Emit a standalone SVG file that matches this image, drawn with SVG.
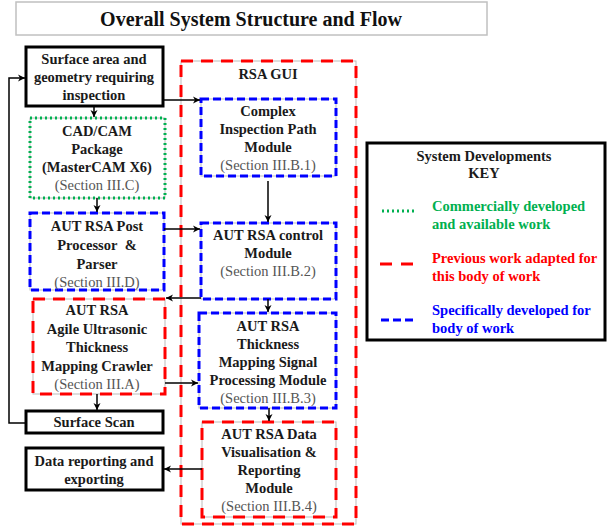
<svg xmlns="http://www.w3.org/2000/svg" width="608" height="526" viewBox="0 0 608 526">
<defs>
<marker id="ah" markerWidth="10" markerHeight="10" refX="8" refY="5" orient="auto" markerUnits="userSpaceOnUse">
<path d="M1,1.5 L8,5 L1,8.5 L3,5 Z" fill="#000"/>
</marker>
</defs>
<style>
.t{font-family:"Liberation Serif","Times New Roman",serif;font-weight:bold;font-size:14.5px;fill:#1a1a1a;text-anchor:middle}
.s{font-family:"Liberation Serif","Times New Roman",serif;font-size:14.5px;fill:#555;text-anchor:middle}
.solid{fill:#fff;stroke:#000;stroke-width:3}
.under{fill:#fff;stroke:#bbb;stroke-width:1}
.green{fill:none;stroke:#00B050;stroke-width:3;stroke-dasharray:2 3}
.red{fill:none;stroke:#FF0000;stroke-width:3;stroke-dasharray:12 8}
.blue{fill:none;stroke:#0000FF;stroke-width:3;stroke-dasharray:8 4}
.c{fill:none;stroke:#000;stroke-width:1.5;marker-end:url(#ah)}
.k{font-family:"Liberation Serif","Times New Roman",serif;font-weight:bold;font-size:14.5px}
</style>
<rect x="0" y="0" width="608" height="526" fill="#fff"/>
<g id="title">
<rect x="16" y="2" width="471" height="33" fill="#fff" stroke="#c0c0c0" stroke-width="1.5"/>
<text x="251" y="26" style="font-family:'Liberation Serif','Times New Roman',serif;font-weight:bold;font-size:20px;fill:#111;text-anchor:middle">Overall System Structure and Flow</text>
</g>
<g id="rsa-gui">
<rect x="181" y="61" width="175" height="463" class="under"/>
<rect x="181" y="61" width="175" height="463" class="red"/>
<text x="268" y="79" class="t">RSA GUI</text>
</g>
<g id="surface-area">
<rect x="26" y="47" width="137" height="59" class="solid"/>
<text x="94" y="64" class="t">Surface area and</text>
<text x="94" y="82" class="t">geometry requiring</text>
<text x="94" y="100" class="t">inspection</text>
</g>
<g id="cadcam">
<rect x="30" y="118" width="135" height="80" class="under"/>
<rect x="30" y="118" width="135" height="80" class="green"/>
<text x="97" y="136" class="t">CAD/CAM</text>
<text x="97" y="154" class="t">Package</text>
<text x="97" y="172" class="t">(MasterCAM X6)</text>
<text x="97" y="190" class="s">(Section III.C)</text>
</g>
<g id="post-processor">
<rect x="30" y="213" width="134" height="77" class="under"/>
<rect x="30" y="213" width="134" height="77" class="blue"/>
<text x="97" y="231" class="t">AUT RSA Post</text>
<text x="97" y="250" class="t">Processor&#160; &amp;</text>
<text x="97" y="269" class="t">Parser</text>
<text x="97" y="287" class="s">(Section III.D)</text>
</g>
<g id="crawler">
<rect x="33" y="299" width="132" height="95" class="under"/>
<rect x="33" y="299" width="132" height="95" class="red"/>
<text x="97" y="315" class="t">AUT RSA</text>
<text x="97" y="334" class="t">Agile Ultrasonic</text>
<text x="97" y="352" class="t">Thickness</text>
<text x="97" y="371" class="t">Mapping Crawler</text>
<text x="97" y="389" class="s">(Section III.A)</text>
</g>
<g id="surface-scan">
<rect x="26" y="411" width="137" height="22" class="solid"/>
<text x="94" y="427" class="t">Surface Scan</text>
</g>
<g id="data-reporting">
<rect x="26" y="448" width="137" height="42" class="solid"/>
<text x="94" y="466" class="t">Data reporting and</text>
<text x="94" y="484" class="t">exporting</text>
</g>
<g id="complex-path">
<rect x="201" y="99" width="135" height="77" class="under"/>
<rect x="201" y="99" width="135" height="77" class="blue"/>
<text x="268" y="116" class="t">Complex</text>
<text x="268" y="134" class="t">Inspection Path</text>
<text x="268" y="152" class="t">Module</text>
<text x="268" y="170" class="s">(Section III.B.1)</text>
</g>
<g id="control-module">
<rect x="201" y="223" width="135" height="76" class="under"/>
<rect x="201" y="223" width="135" height="76" class="blue"/>
<text x="268" y="240" class="t">AUT RSA control</text>
<text x="268" y="258" class="t">Module</text>
<text x="268" y="276" class="s">(Section III.B.2)</text>
</g>
<g id="signal-processing">
<rect x="199" y="313" width="137" height="95" class="under"/>
<rect x="199" y="313" width="137" height="95" class="blue"/>
<text x="268" y="331" class="t">AUT RSA</text>
<text x="268" y="349" class="t">Thickness</text>
<text x="268" y="367" class="t">Mapping Signal</text>
<text x="268" y="385" class="t">Processing Module</text>
<text x="268" y="403" class="s">(Section III.B.3)</text>
</g>
<g id="data-visualisation">
<rect x="202" y="422" width="134" height="95" class="under"/>
<rect x="202" y="422" width="134" height="95" class="red"/>
<text x="269" y="439" class="t">AUT RSA Data</text>
<text x="269" y="457" class="t">Visualisation &amp;</text>
<text x="269" y="475" class="t">Reporting</text>
<text x="269" y="493" class="t">Module</text>
<text x="269" y="511" class="s">(Section III.B.4)</text>
</g>
<g id="key">
<rect x="367" y="143" width="238" height="197" class="solid"/>
<text x="484" y="161" class="t">System Developments</text>
<text x="484" y="178" class="t">KEY</text>
<line x1="382" y1="211" x2="417" y2="211" stroke="#00B050" stroke-width="3" stroke-dasharray="2 3"/>
<text x="432" y="211" class="k" fill="#00B050">Commercially developed</text>
<text x="432" y="229" class="k" fill="#00B050">and available work</text>
<line x1="380" y1="264" x2="417" y2="264" stroke="#FF0000" stroke-width="3" stroke-dasharray="12 9"/>
<text x="432" y="263" class="k" fill="#FF0000">Previous work adapted for</text>
<text x="432" y="281" class="k" fill="#FF0000">this body of work</text>
<line x1="381" y1="320" x2="417" y2="320" stroke="#0000FF" stroke-width="3" stroke-dasharray="8 4"/>
<text x="432" y="315" class="k" fill="#0000FF">Specifically developed for</text>
<text x="432" y="333" class="k" fill="#0000FF">body of work</text>
</g>
<g id="connectors">
<path d="M26 423 H9 V78 H25" class="c"/>
<path d="M163 100 H200" class="c"/>
<path d="M94 106 V117" class="c"/>
<path d="M97 198 V212" class="c"/>
<path d="M164 229 H200" class="c"/>
<path d="M201 298 H166" class="c"/>
<path d="M165 383 H198" class="c"/>
<path d="M97 394 V410" class="c"/>
<path d="M202 469 H164" class="c"/>
<path d="M268 181 V222" class="c"/>
<path d="M268 299 V312" class="c"/>
<path d="M269 408 V421" class="c"/>
</g>
</svg>
